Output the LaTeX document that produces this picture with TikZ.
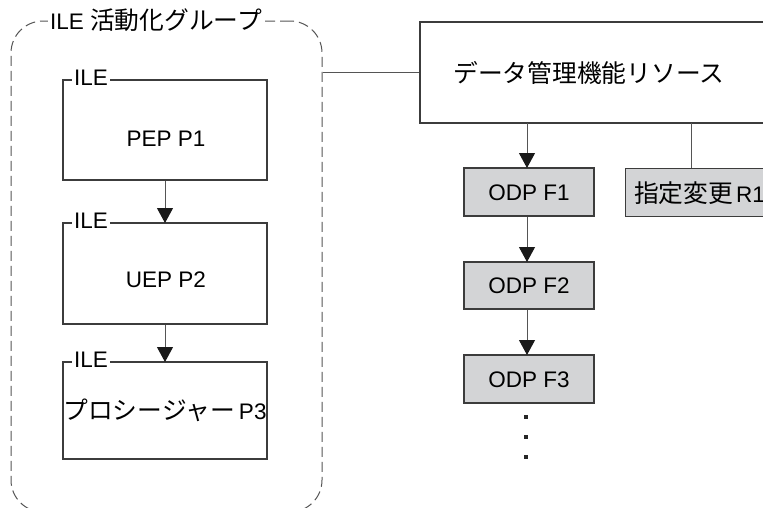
\documentclass[tikz,border=0pt]{standalone}
\usepackage{fontspec}
\setmainfont{Liberation Sans}
\newfontfamily\jp[Scale=1.1]{Noto Sans CJK JP}
\usetikzlibrary{arrows.meta}
\definecolor{boxline}{HTML}{3C3C3C}
\definecolor{conn}{HTML}{555555}
\definecolor{dashc}{HTML}{555555}
\definecolor{odpfill}{HTML}{D3D4D6}
\tikzset{
  txt/.style={font=\fontsize{22.5}{26}\selectfont, inner sep=0pt},
  ilebox/.style={draw=boxline, line width=1.2pt, fill=white, minimum width=204pt, inner sep=0pt},
  odpbox/.style={draw=boxline, line width=1.2pt, fill=odpfill, inner sep=0pt},
  ilelbl/.style={txt, fill=white, inner xsep=2pt, inner ysep=0pt, anchor=west},
  conline/.style={draw=conn, line width=1pt},
  arr/.style={conline, -{Triangle[length=15pt,width=16pt,color=black!90]}, shorten >=-0.6pt},
  grpbox/.style={draw=dashc, line width=1pt, dash pattern=on 10pt off 5pt, rounded corners=32pt, inner sep=0pt},
  dotsq/.style={fill=black!85, minimum size=4pt, inner sep=0pt}
}
\begin{document}
\begin{tikzpicture}[x=1pt,y=-1pt]
\clip (0,0) rectangle (763,507);
\fill[white] (0,0) rectangle (763,507);
% group (dashed)
\node[grpbox, minimum width=311pt, minimum height=491pt] (grp) at (166.5,266.5) {};
\node[txt, fill=white, inner xsep=2pt, anchor=west] (grpl) at (48,20) {ILE {\jp 活動化グループ}};
% ILE boxes
\node[ilebox, minimum height=100pt] (p1) at (165,130) {};
\node[txt] (p1t) at (166,139) {PEP P1};
\node[ilelbl] (p1l) at (72,78) {ILE};
\node[ilebox, minimum height=101pt] (p2) at (165,273.5) {};
\node[txt] (p2t) at (166,280) {UEP P2};
\node[ilelbl] (p2l) at (72,221) {ILE};
\node[ilebox, minimum height=97pt] (p3) at (165,410.5) {};
\node[txt] (p3t) at (165,410) {{\jp プロシージャー}\hspace{4pt}P3};
\node[ilelbl] (p3l) at (72,360) {ILE};
\draw[arr] (p1.south) -- (p2.north);
\draw[arr] (p2.south) -- (p3.north);
% data management resource
\node[draw=boxline, line width=1.2pt, fill=white, minimum width=380pt, minimum height=101pt, inner sep=0pt] (dm) at (610,72.5) {};
\node[txt] (dmt) at (589,73) {\jp データ管理機能リソース};
\draw[conline] (dm.west) -- (dm.west -| grp.east);
% ODP boxes
\node[odpbox, minimum width=130pt, minimum height=48pt] (f1) at (529,192) {};
\node[txt] (f1t) at (529,193) {ODP F1};
\node[odpbox, minimum width=130pt, minimum height=47pt] (f2) at (529,285.5) {};
\node[txt] (f2t) at (529,286) {ODP F2};
\node[odpbox, minimum width=130pt, minimum height=48pt] (f3) at (529,379) {};
\node[txt] (f3t) at (529,380) {ODP F3};
\node[odpbox, minimum width=180pt, minimum height=48pt, anchor=north west] (r1) at (625,168) {};
\node[txt, anchor=west] (r1t) at (634,193) {{\jp 指定変更}\hspace{3pt}R1};
\coordinate (a1) at (527,123);
\draw[arr] (a1) -- (a1 |- f1.north);
\draw[arr] (f1.south -| a1) -- (a1 |- f2.north);
\draw[arr] (f2.south -| a1) -- (a1 |- f3.north);
\coordinate (b1) at (691,123);
\draw[conline] (b1) -- (b1 |- r1.north);
% continuation dots
\node[dotsq] (d1) at (526,417) {};
\node[dotsq] (d2) at (526,437) {};
\node[dotsq] (d3) at (526,457) {};
\end{tikzpicture}
\end{document}
